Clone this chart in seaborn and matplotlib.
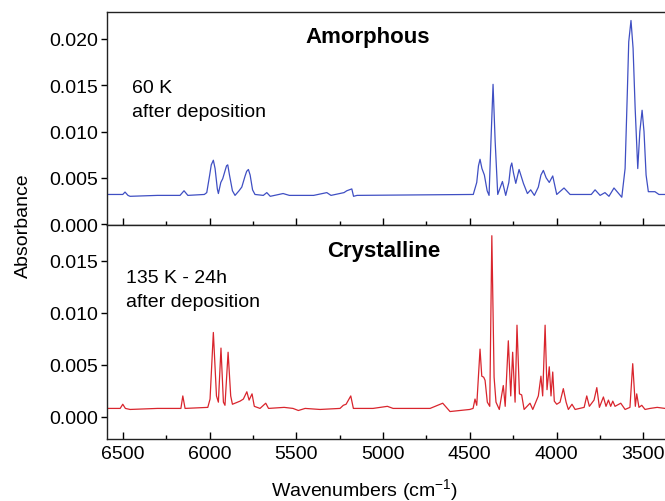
import matplotlib
matplotlib.use("Agg")
import matplotlib.pyplot as plt
from matplotlib.ticker import MultipleLocator, FormatStrFormatter
import pandas as pd
import seaborn as sns

# amorphous spectrum, 60 K (vertices)
amorph_wn = [6592, 6500, 6487, 6470, 6458, 6300, 6170, 6147, 6125, 6030,
             6016, 6000, 5990, 5978, 5968, 5955, 5949, 5935, 5924, 5910,
             5902, 5895, 5885, 5868, 5853, 5830, 5814, 5795, 5786, 5776,
             5766, 5752, 5738, 5690, 5670, 5650, 5576, 5540, 5400, 5324,
             5300, 5225, 5209, 5180, 5170, 5150, 4480, 4460, 4450, 4441,
             4430, 4416, 4400, 4389, 4378, 4366, 4354, 4339, 4312, 4293,
             4275, 4265, 4258, 4248, 4235, 4216, 4191, 4168, 4149, 4128,
             4105, 4090, 4076, 4060, 4042, 4022, 3999, 3957, 3922, 3800,
             3778, 3749, 3721, 3698, 3669, 3624, 3605, 3592, 3584, 3571,
             3559, 3547, 3532, 3520, 3507, 3496, 3484, 3471, 3433, 3410,
             3375]
amorph_abs = [0.0032, 0.0032, 0.00346, 0.0031, 0.0030, 0.0031, 0.0031, 0.0036, 0.0031, 0.0032,
              0.0034, 0.0052, 0.0064, 0.0069, 0.0060, 0.0038, 0.0033, 0.0045, 0.0049, 0.0058,
              0.0063, 0.0064, 0.0053, 0.0036, 0.0031, 0.0036, 0.0040, 0.0052, 0.0057, 0.0059,
              0.0053, 0.0037, 0.0032, 0.0031, 0.0034, 0.0030, 0.0033, 0.0031, 0.0031, 0.0034,
              0.0031, 0.0034, 0.0036, 0.0038, 0.0030, 0.0031, 0.0032, 0.0045, 0.0063, 0.0070,
              0.0060, 0.0053, 0.0036, 0.0031, 0.0090, 0.0151, 0.0090, 0.0032, 0.0046, 0.0031,
              0.0045, 0.0062, 0.0066, 0.0055, 0.0044, 0.0059, 0.0044, 0.0033, 0.0037, 0.0031,
              0.0040, 0.0053, 0.0058, 0.0050, 0.0045, 0.0052, 0.0032, 0.0039, 0.0032, 0.0032,
              0.0037, 0.0031, 0.0034, 0.0030, 0.0039, 0.0029, 0.0060, 0.0143, 0.0197, 0.0220,
              0.0190, 0.0125, 0.0060, 0.0100, 0.0123, 0.0100, 0.0053, 0.0035, 0.0035, 0.0032,
              0.0032]

# crystalline spectrum, 135 K - 24h
cryst_wn = [6592, 6515, 6500, 6485, 6458, 6300, 6165, 6154, 6141, 6010,
            5997, 5978, 5960, 5949, 5934, 5920, 5911, 5893, 5878, 5868,
            5824, 5805, 5785, 5772, 5755, 5742, 5709, 5676, 5660, 5570,
            5519, 5488, 5449, 5363, 5248, 5229, 5213, 5186, 5171, 5058,
            4975, 4942, 4729, 4656, 4614, 4500, 4481, 4470, 4460, 4441,
            4431, 4420, 4412, 4399, 4385, 4373, 4360, 4349, 4330, 4307,
            4296, 4278, 4264, 4253, 4239, 4228, 4214, 4201, 4187, 4153,
            4137, 4105, 4090, 4080, 4066, 4055, 4042, 4032, 4022, 4013,
            3999, 3980, 3961, 3945, 3932, 3911, 3893, 3841, 3826, 3811,
            3784, 3768, 3753, 3730, 3715, 3701, 3688, 3676, 3663, 3630,
            3605, 3577, 3561, 3546, 3538, 3525, 3509, 3490, 3461, 3420,
            3375]
cryst_abs = [0.0008, 0.0008, 0.0012, 0.0008, 0.0007, 0.0008, 0.0008, 0.0020, 0.0008, 0.0009,
             0.0017, 0.0081, 0.0020, 0.0014, 0.0066, 0.0014, 0.0011, 0.0062, 0.0020, 0.0012,
             0.0015, 0.0017, 0.0024, 0.0016, 0.0022, 0.0010, 0.0008, 0.0013, 0.0008, 0.0009,
             0.0008, 0.0006, 0.0008, 0.0007, 0.0008, 0.0011, 0.0012, 0.0020, 0.0008, 0.0008,
             0.0010, 0.0008, 0.0008, 0.0013, 0.0005, 0.0007, 0.0008, 0.0017, 0.0011, 0.0065,
             0.0039, 0.0038, 0.0035, 0.0014, 0.0010, 0.0174, 0.0038, 0.0014, 0.0007, 0.0030,
             0.0010, 0.0073, 0.0020, 0.0062, 0.0014, 0.0088, 0.0022, 0.0021, 0.0007, 0.0013,
             0.0007, 0.0020, 0.0039, 0.0020, 0.0088, 0.0026, 0.0048, 0.0020, 0.0043, 0.0015,
             0.0012, 0.0014, 0.0027, 0.0014, 0.0007, 0.0012, 0.0007, 0.0009, 0.0020, 0.0010,
             0.0016, 0.0028, 0.0009, 0.0019, 0.0010, 0.0016, 0.0010, 0.0015, 0.0010, 0.0013,
             0.0007, 0.0009, 0.0051, 0.0010, 0.0022, 0.0009, 0.0011, 0.0007, 0.0008, 0.0009,
             0.0008]

amorph = pd.DataFrame({"wn": amorph_wn, "A": amorph_abs})
cryst = pd.DataFrame({"wn": cryst_wn, "A": cryst_abs})

sns.set_theme(style="ticks")
plt.rcParams["font.family"] = ["Liberation Sans", "DejaVu Sans"]
plt.rcParams["mathtext.default"] = "regular"
plt.rcParams["text.color"] = "black"
plt.rcParams["xtick.color"] = "black"
plt.rcParams["ytick.color"] = "black"

fig = plt.figure(figsize=(6.65, 5.02), dpi=100)
ax1 = fig.add_axes([0.1614, 0.5498, 0.8386, 0.4249])
ax2 = fig.add_axes([0.1614, 0.1235, 0.8386, 0.4263], sharex=ax1)

sns.lineplot(data=amorph, x="wn", y="A", ax=ax1, color="#3f4fc3",
             linewidth=0.9, estimator=None, sort=False)
sns.lineplot(data=cryst, x="wn", y="A", ax=ax2, color="#d9252d",
             linewidth=0.9, estimator=None, sort=False)

ax1.set_xlim(6589, 3375)
ax1.set_ylim(-0.0001, 0.02295)
ax2.set_ylim(-0.00214, 0.01843)

for ax in (ax1, ax2):
    ax.spines["right"].set_visible(False)
    for s in ("left", "top", "bottom"):
        ax.spines[s].set_linewidth(1.0)
        ax.spines[s].set_color("#222222")
    ax.xaxis.set_major_locator(MultipleLocator(500))
    ax.xaxis.set_minor_locator(MultipleLocator(250))
    ax.yaxis.set_major_locator(MultipleLocator(0.005))
    ax.yaxis.set_major_formatter(FormatStrFormatter("%.3f"))
    ax.tick_params(axis="x", which="major", direction="in", length=5, width=1.0, pad=4,
                   labelsize=14, labelcolor="black")
    ax.tick_params(axis="x", which="minor", direction="in", length=3, width=1.0)
    ax.tick_params(axis="y", which="major", direction="out", length=4, width=1.0, pad=2.5,
                   labelsize=14, labelcolor="black")
    ax.set_xlabel("")
    ax.set_ylabel("")

ax1.tick_params(axis="x", labelbottom=False)

ax1.text(0.466, 0.858, "Amorphous", transform=ax1.transAxes, ha="center", va="baseline",
         fontsize=16, fontweight="bold", color="black")
ax1.text(0.0437, 0.622, "60 K", transform=ax1.transAxes, ha="left", va="baseline",
         fontsize=14, color="black")
ax1.text(0.0437, 0.512, "after deposition", transform=ax1.transAxes, ha="left", va="baseline",
         fontsize=14, color="black")

ax2.text(0.495, 0.854, "Crystalline", transform=ax2.transAxes, ha="center", va="baseline",
         fontsize=16, fontweight="bold", color="black")
ax2.text(0.0335, 0.732, "135 K - 24h", transform=ax2.transAxes, ha="left", va="baseline",
         fontsize=14, color="black")
ax2.text(0.0335, 0.623, "after deposition", transform=ax2.transAxes, ha="left", va="baseline",
         fontsize=14, color="black")

fig.text(0.035, 1 - 226 / 502, "Absorbance", rotation=90, ha="center", va="center",
         fontsize=14, color="black")
fig.text(365 / 665, 1 - 490 / 502, "Wavenumbers (cm$^{-1}$)", ha="center", va="center",
         fontsize=14, color="black")

fig.savefig("out.png", dpi=100)
